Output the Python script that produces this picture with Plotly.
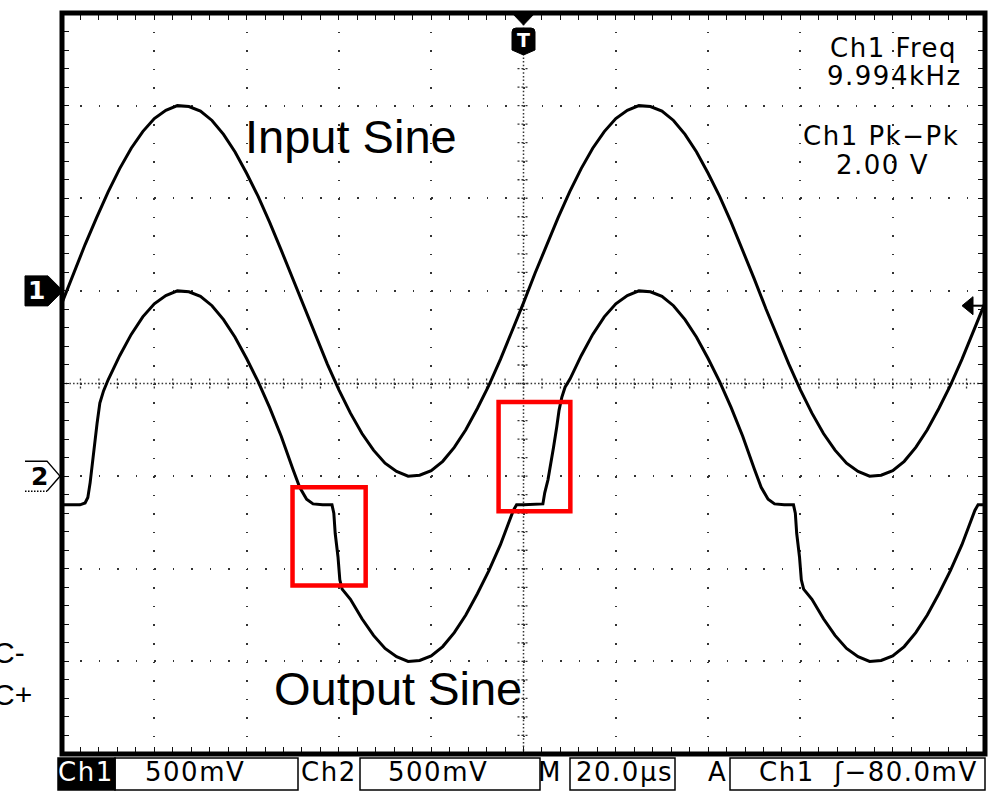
import plotly.graph_objects as go

# ---------------- data read from the scope screen ----------------
# time in microseconds (10 div x 20 us), amplitude in screen divisions (500 mV/div)
ch1_time_us = [0, 2.5, 5, 7.5, 10, 12.5, 15, 17.5, 20, 22.5, 25, 27.5, 30, 32.5, 35, 37.5,
               40, 42.5, 45, 47.5, 50, 52.5, 55, 57.5, 60, 62.5, 65, 67.5, 70, 72.5, 75, 77.5,
               80, 82.5, 85, 87.5, 90, 92.5, 95, 97.5, 100, 102.5, 105, 107.5, 110, 112.5, 115,
               117.5, 120, 122.5, 125, 127.5, 130, 132.5, 135, 137.5, 140, 142.5, 145, 147.5,
               150, 152.5, 155, 157.5, 160, 162.5, 165, 167.5, 170, 172.5, 175, 177.5, 180,
               182.5, 185, 187.5, 190, 192.5, 195, 197.5, 200]
ch1_div = [0.87, 1.19, 1.50, 1.79, 2.07, 2.32, 2.54, 2.72, 2.86, 2.95, 3.00, 2.99, 2.94, 2.84,
           2.69, 2.50, 2.27, 2.02, 1.74, 1.44, 1.13, 0.81, 0.50, 0.21, -0.07, -0.32, -0.54,
           -0.72, -0.86, -0.95, -1.00, -0.99, -0.94, -0.84, -0.69, -0.50, -0.27, -0.02, 0.26,
           0.56, 0.87, 1.19, 1.50, 1.79, 2.07, 2.32, 2.54, 2.72, 2.86, 2.95, 3.00, 2.99, 2.94,
           2.84, 2.69, 2.50, 2.27, 2.02, 1.74, 1.44, 1.13, 0.81, 0.50, 0.21, -0.07, -0.32,
           -0.54, -0.72, -0.86, -0.95, -1.00, -0.99, -0.94, -0.84, -0.69, -0.50, -0.27, -0.02,
           0.26, 0.56, 0.87]

ch2_time_us = [0, 3.9, 5.0, 5.6, 6.1, 6.7, 7.6, 8.2, 9.0, 10, 12.5, 15, 17.5, 20, 22.5, 25,
               27.5, 30, 32.5, 35, 37.5, 40, 42.5, 45, 47.5, 50, 51.5, 53, 54.4, 56.5, 58.5,
               58.9, 59.2, 59.8, 60.2, 60.7, 62.5, 65, 67.5, 70, 72.5, 75, 77.5, 80, 82.5, 85,
               87.5, 90, 92.5, 95, 97.1, 97.8, 98.5, 100, 104.2, 104.6, 105.3, 106.0, 106.5,
               107.2, 107.7, 108.3, 109.0, 110.1, 112.5, 115, 117.5, 120, 122.5, 125, 127.5,
               130, 132.5, 135, 137.5, 140, 142.5, 145, 147.5, 150, 151.5, 153, 154.4, 156.5,
               158.5, 158.9, 159.2, 159.8, 160.2, 160.7, 162.5, 165, 167.5, 170, 172.5, 175,
               177.5, 180, 182.5, 185, 187.5, 190, 192.5, 195, 197.1, 197.8, 198.5, 200]
ch2_div = [-1.31, -1.31, -1.29, -1.23, -1.07, -0.79, -0.43, -0.21, -0.08, 0.04, 0.30, 0.53,
           0.72, 0.86, 0.95, 1.00, 0.99, 0.94, 0.84, 0.69, 0.50, 0.27, 0.02, -0.26, -0.57,
           -0.92, -1.12, -1.25, -1.30, -1.31, -1.31, -1.40, -1.62, -1.87, -2.12, -2.22, -2.33,
           -2.54, -2.72, -2.86, -2.95, -3.00, -2.99, -2.94, -2.84, -2.69, -2.50, -2.27, -2.02,
           -1.74, -1.46, -1.37, -1.31, -1.31, -1.30, -1.18, -1.04, -0.86, -0.69, -0.47, -0.29,
           -0.15, -0.04, 0.05, 0.30, 0.53, 0.72, 0.86, 0.95, 1.00, 0.99, 0.94, 0.84, 0.69,
           0.50, 0.27, 0.02, -0.26, -0.57, -0.92, -1.12, -1.25, -1.30, -1.31, -1.31, -1.40,
           -1.62, -1.87, -2.12, -2.22, -2.33, -2.54, -2.72, -2.86, -2.95, -3.00, -2.99, -2.94,
           -2.84, -2.69, -2.50, -2.27, -2.02, -1.74, -1.46, -1.37, -1.31, -1.31]

ch1_ground_div = 1.0
ch2_ground_div = -1.0
trigger_time_us = 100
trigger_level_div = 0.84

# highlighted (red) regions: time span and amplitude span
box_t0 = [49.95, 94.6]
box_t1 = [65.8, 110.15]
box_v0 = [-2.18, -1.38]
box_v1 = [-1.12, -0.20]

readout_lines = ["Ch1 Freq", "9.994kHz", "Ch1 Pk\u2212Pk", "2.00 V"]
status_labels = ["Ch1", "500mV", "Ch2", "500mV", "M", "20.0\u00b5s", "A", "Ch1  \u0283\u221280.0mV"]
label_input = "Input Sine"
label_output = "Output Sine"
side_labels = ["C-", "C+"]

# ---------------- layout geometry ----------------
W, H = 1000, 792
ML, MR, MT, MB = 62, 15, 13, 38
PW, PH = W - ML - MR, H - MT - MB


def xp(px):
    return (px - ML) / PW


def yp(py):
    return (H - MB - py) / PH


fig = go.Figure()
fig.add_trace(go.Scatter(x=ch1_time_us, y=ch1_div, mode="lines",
                         line=dict(color="black", width=3), hoverinfo="skip"))
fig.add_trace(go.Scatter(x=ch2_time_us, y=ch2_div, mode="lines",
                         line=dict(color="black", width=3), hoverinfo="skip"))

tick_style = dict(ticks="inside", ticklen=7, tickwidth=1.3, tickcolor="#111")
fig.update_xaxes(range=[0, 200], dtick=20, tick0=0, showgrid=True, gridcolor="#333",
                 gridwidth=1.5, griddash="1.5px,17.03px", zeroline=False,
                 showticklabels=False, showline=False, mirror="allticks",
                 minor=dict(dtick=4, tick0=0, showgrid=False, **tick_style), **tick_style)
fig.update_yaxes(range=[-4, 4], dtick=1, tick0=0, showgrid=True, gridcolor="#333",
                 gridwidth=1.5, griddash="1.5px,16.96px", zeroline=False,
                 showticklabels=False, showline=False, mirror="allticks",
                 minor=dict(dtick=0.2, tick0=0, showgrid=False, **tick_style), **tick_style)

shapes = []
# centre graticule lines (densely dotted) with small cross ticks
shapes.append(dict(type="line", xref="x", yref="y", x0=0, x1=200, y0=0, y1=0,
                   line=dict(color="#333", width=1.5, dash="1.5px,2.19px"), layer="below"))
shapes.append(dict(type="line", xref="x", yref="y", x0=100, x1=100, y0=4, y1=-4,
                   line=dict(color="#333", width=1.5, dash="1.5px,2.2px"), layer="below"))
for k in range(1, 40):
    v = -4 + 0.2 * k
    shapes.append(dict(type="line", xref="x", yref="y", xsizemode="pixel", xanchor=100,
                       x0=-6, x1=6, y0=v, y1=v,
                       line=dict(color="#333", width=1.3, dash="2px,2px"), layer="below"))
for k in range(1, 50):
    t = 4 * k
    shapes.append(dict(type="line", xref="x", yref="y", ysizemode="pixel", yanchor=0,
                       x0=t, x1=t, y0=-5, y1=5,
                       line=dict(color="#333", width=1.3, dash="2px,2px"), layer="below"))

# screen frame
shapes.append(dict(type="rect", xref="paper", yref="paper", x0=0, x1=1, y0=0, y1=1,
                   line=dict(color="black", width=5), layer="above"))

# red highlight boxes
for i in range(len(box_t0)):
    shapes.append(dict(type="rect", xref="x", yref="y", x0=box_t0[i], x1=box_t1[i],
                       y0=box_v0[i], y1=box_v1[i], line=dict(color="#ff0000", width=4.5),
                       layer="above"))

# channel 1 ground marker (filled)
shapes.append(dict(type="path", xref="paper", yref="y", xsizemode="pixel", ysizemode="pixel",
                   xanchor=0, yanchor=ch1_ground_div,
                   path="M -37,15 L -14,15 L 1,0 L -14,-15 L -37,-15 Z",
                   fillcolor="black", line=dict(color="black", width=1), layer="above"))
# channel 2 ground marker (outlined)
shapes.append(dict(type="path", xref="paper", yref="y", xsizemode="pixel", ysizemode="pixel",
                   xanchor=0, yanchor=ch2_ground_div,
                   path="M -37,15 L -15,15 L -2,0 L -15,-15",
                   line=dict(color="black", width=1.5), layer="above"))
shapes.append(dict(type="line", xref="paper", yref="y", xsizemode="pixel", ysizemode="pixel",
                   xanchor=0, yanchor=ch2_ground_div, x0=-37, x1=-15, y0=-15, y1=-15,
                   line=dict(color="black", width=1.5, dash="1.5px,1.5px"), layer="above"))
# trigger position marker
shapes.append(dict(type="path", xref="x", yref="paper", xsizemode="pixel", ysizemode="pixel",
                   xanchor=trigger_time_us, yanchor=1,
                   path="M -11.5,0 L 11.5,0 L 0,-12 Z",
                   fillcolor="black", line=dict(color="black", width=1), layer="above"))
shapes.append(dict(type="path", xref="x", yref="paper", xsizemode="pixel", ysizemode="pixel",
                   xanchor=trigger_time_us, yanchor=1,
                   path="M -11.5,-19 Q -11.5,-15 -7.5,-15 L 7.5,-15 Q 11.5,-15 11.5,-19 "
                        "L 11.5,-37 L 0,-42 L -11.5,-37 Z",
                   fillcolor="black", line=dict(color="black", width=1), layer="above"))
# trigger level marker
shapes.append(dict(type="path", xref="paper", yref="y", xsizemode="pixel", ysizemode="pixel",
                   xanchor=1, yanchor=trigger_level_div,
                   path="M -23,0 L -12,9 L -12,-9 Z",
                   fillcolor="black", line=dict(color="black", width=1), layer="above"))
shapes.append(dict(type="line", xref="paper", yref="y", xsizemode="pixel", ysizemode="pixel",
                   xanchor=1, yanchor=trigger_level_div, x0=-12, x1=-2, y0=0, y1=0,
                   line=dict(color="black", width=2), layer="above"))

# status bar boxes
status_boxes = [(58, 115, True), (115, 298, False), (360, 540, False), (570, 675, False),
                (730, 985, False)]
for x0, x1, filled in status_boxes:
    shapes.append(dict(type="rect", xref="paper", yref="paper", x0=xp(x0), x1=xp(x1),
                       y0=yp(790), y1=yp(758),
                       fillcolor="black" if filled else "rgba(0,0,0,0)",
                       line=dict(color="black", width=1.5), layer="above"))

fig.update_layout(shapes=shapes)

tek = "DejaVu Sans"
ls = "letter-spacing:1.5px"
ann = []


def add_text(text, px, py, size, color="black", family=tek, xanchor="center", spaced=True):
    t = f'<span style="{ls}">{text}</span>' if spaced else text
    ann.append(dict(text=t, xref="paper", yref="paper", x=xp(px), y=yp(py), xanchor=xanchor,
                    yanchor="middle", showarrow=False,
                    font=dict(family=family, size=size, color=color)))


add_text(readout_lines[0], 893, 47.8, 26)
add_text(readout_lines[1], 894, 76.3, 26)
add_text(readout_lines[2], 881, 136.5, 26)
add_text(readout_lines[3], 882, 164.5, 26)

add_text(label_input, 351, 136.7, 47, family="Liberation Sans, Arial", spaced=False)
add_text(label_output, 398, 688.5, 47, family="Liberation Sans, Arial", spaced=False)
add_text(side_labels[0], 27, 652, 30, family="Liberation Sans, Arial", xanchor="right",
         spaced=False)
add_text(side_labels[1], 34, 694, 30, family="Liberation Sans, Arial", xanchor="right",
         spaced=False)

status_pos = [86, 195, 329, 438, 550, 624, 717, 868]
for i, lab in enumerate(status_labels):
    add_text(lab, status_pos[i], 772, 26, color="white" if i == 0 else "black")

# channel numbers on ground markers and trigger "T"
ann.append(dict(text="<b>1</b>", xref="paper", yref="y", x=0, y=ch1_ground_div, xshift=-26,
                xanchor="center", yanchor="middle", showarrow=False,
                font=dict(family=tek, size=25, color="white")))
ann.append(dict(text="<b>2</b>", xref="paper", yref="y", x=0, y=ch2_ground_div, xshift=-23,
                xanchor="center", yanchor="middle", showarrow=False,
                font=dict(family=tek, size=25, color="black")))
ann.append(dict(text="<b>T</b>", xref="x", yref="paper", x=trigger_time_us, y=1, yshift=-27,
                xanchor="center", yanchor="middle", showarrow=False,
                font=dict(family=tek, size=19, color="white")))

fig.update_layout(annotations=ann, width=W, height=H,
                  margin=dict(l=ML, r=MR, t=MT, b=MB, pad=0),
                  paper_bgcolor="white", plot_bgcolor="white", showlegend=False)

fig.write_html("out.html", config={"displayModeBar": False},
               post_script="document.body.style.margin='0px';")
